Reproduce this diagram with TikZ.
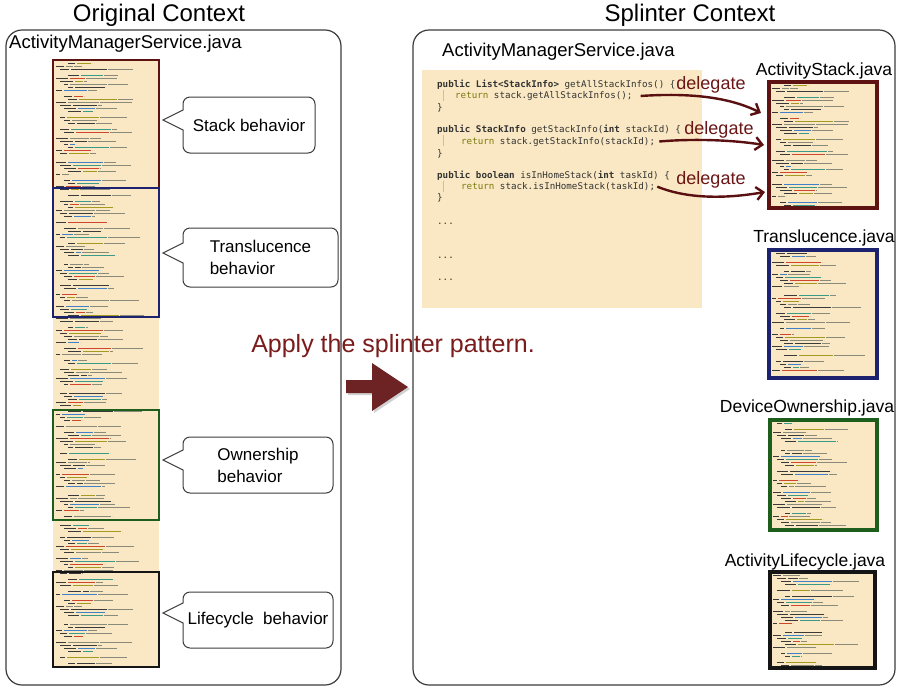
\documentclass[tikz,border=0pt]{standalone}
\usepackage{fontspec}
\setmainfont{Liberation Sans}
\newfontfamily\codefont{DejaVu Sans Mono}
\usetikzlibrary{arrows.meta}
\definecolor{beige}{HTML}{F9E8C3}
\definecolor{boxgray}{HTML}{3C3C3C}
\definecolor{cdark}{HTML}{3A3A3A}
\definecolor{cblue}{HTML}{3F80C8}
\definecolor{cteal}{HTML}{3A9A88}
\definecolor{cred}{HTML}{D0462C}
\definecolor{colive}{HTML}{A49A22}
\definecolor{cgray}{HTML}{8A8A7A}
\definecolor{codegray}{HTML}{333333}
\definecolor{kwolive}{HTML}{7C7A10}
\definecolor{delred}{HTML}{6A1616}
\definecolor{arrred}{HTML}{5A1010}
\definecolor{applyred}{HTML}{7A1C1C}
\definecolor{bigarrow}{HTML}{6D2323}
\definecolor{fred}{HTML}{5E1212}
\definecolor{fblue}{HTML}{1C2270}
\definecolor{fgreen}{HTML}{1D5E1D}
\definecolor{fblack}{HTML}{151515}

\tikzset{
  ctx/.style={draw=boxgray, line width=1.2pt, rounded corners=16pt},
  title/.style={font=\fontsize{24}{29}\selectfont, inner sep=0},
  fname/.style={font=\fontsize{18.5}{22}\selectfont, inner sep=0},
  tname/.style={font=\fontsize{17.5}{21}\selectfont, inner sep=0},
  bubblebox/.style={draw=boxgray, line width=1pt, rounded corners=7pt, fill=white,
    font=\fontsize{17}{22}\selectfont, align=left, inner sep=0},
  bubbleline/.style={draw=boxgray, line width=1pt, line join=miter},
  code/.style={font=\codefont\fontsize{9.2}{11}\selectfont, inner sep=0, anchor=base west, text=codegray},
  guide/.style={draw=gray!50, line width=0.6pt},
  deleg/.style={text=delred, font=\fontsize{18}{22}\selectfont, inner sep=0},
  delarrow/.style={draw=arrred, line width=2.4pt, -{Straight Barb[length=7pt,width=13pt]}},
  lframe/.style={line width=1.8pt},
  rframe/.style={line width=3.2pt},
  applytxt/.style={text=applyred, font=\fontsize{25}{30}\selectfont, inner sep=0},
}

\newcommand{\codelines}[5]{%
  \begin{scope}
  \clip (#1+2,#2+1) rectangle (#3-2,#4-1);
  \pgfmathtruncatemacro{\nl}{(#4-#2-6)/3.0}
  \foreach \k in {0,...,\nl}{%
    \pgfmathtruncatemacro{\cskip}{mod(\k*13+#5,7)*mod(\k*3+#5,11)}
    \ifnum\cskip>0
      \pgfmathsetmacro{\yy}{#2+3+\k*3.0}
      \pgfmathsetmacro{\xa}{#1+3+4*mod(\k*5+#5,4)}
      \pgfmathsetmacro{\wa}{4+mod(\k*11+#5,10)}
      \pgfmathsetmacro{\xb}{\xa+\wa+1.5}
      \pgfmathsetmacro{\wb}{5+mod(\k*29+3*#5,36)}
      \pgfmathsetmacro{\xc}{\xb+\wb+1.5}
      \pgfmathsetmacro{\wc}{max(0,mod(\k*17+#5,45)-12)}
      \pgfmathtruncatemacro{\cc}{mod(\k*7+#5,6)}
      \ifcase\cc \def\col{cblue}\or\def\col{cteal}\or\def\col{cred}\or\def\col{colive}\or\def\col{cgray}\or\def\col{cdark}\fi
      \fill[cdark] (\xa,\yy) rectangle ++(\wa,1.3);
      \fill[\col] (\xb,\yy) rectangle ++(\wb,1.3);
      \fill[cgray] (\xc,\yy) rectangle ++(\wc,1.1);
    \fi
  }
  \end{scope}
}

\newcommand{\bubble}[7]{%
  \node[bubblebox, minimum width={#4-#2}, minimum height={#5-#3}] (#1) at ({(#2+#4)/2},{(#3+#5)/2}) {#7};
  \fill[white] (#2+1.5,#6-10) -- (#2-20,#6) -- (#2+1.5,#6+10) -- cycle;
  \draw[bubbleline] (#2,#6-10) -- (#2-20,#6) -- (#2,#6+10);
}

\begin{document}
\begin{tikzpicture}[x=1pt,y=-1pt]
\useasboundingbox (0,0) rectangle (900,689);
\fill[white] (0,0) rectangle (900,689);

% titles and context boxes
\node[title] (t1) at (159,15) {Original Context};
\node[title] (t2) at (690,15) {Splinter Context};
\draw[ctx] (6,30) rectangle (341,685);
\draw[ctx] (413,30) rectangle (895,685);
\node[fname, anchor=west] (amsL) at (9,44) {ActivityManagerService.java};
\node[fname, anchor=west] (amsR) at (442,52) {ActivityManagerService.java};

% left code strip
\fill[beige] (53,60) rectangle (159,667);
\codelines{53}{60}{159}{667}{3}
\draw[lframe, fred] (53,60) rectangle (159,188);
\draw[lframe, fblue] (53,188) rectangle (159,317);
\draw[lframe, fgreen] (53,410) rectangle (159,520);
\draw[lframe, fblack] (53,572) rectangle (159,667);

% callouts
\bubble{cs}{183}{97}{315}{153}{120}{Stack behavior}
\bubble{ct}{183}{228}{338}{287}{253}{Translucence\\behavior}
\bubble{co}{183}{437}{333}{493}{460}{Ownership\\behavior}
\bubble{cl}{183}{592}{333}{648}{613}{Lifecycle\ \ behavior}

% middle
\node[applytxt] (apply) at (393,346) {Apply the splinter pattern.};
\fill[black, opacity=0.18] (348,382) -- (374,382) -- (374,365) -- (410,389) -- (374,413) -- (374,395) -- (348,395) -- cycle;
\fill[bigarrow] (346,380) -- (372,380) -- (372,363) -- (408,387) -- (372,411) -- (372,393) -- (346,393) -- cycle;

% code panel
\fill[beige] (422,70) rectangle (702,308);
\node[code] (c1) at (437,87.5) {\textbf{public List<StackInfo>} getAllStackInfos() \{};
\draw[guide] (443,90) -- (443,101);
\node[code] (r1) at (455,98.5) {\textcolor{kwolive}{return} stack.getAllStackInfos();};
\node[code] (b1) at (437,110) {\}};
\node[code] (c2) at (437,132) {\textbf{public StackInfo} getStackInfo(\textbf{int} stackId) \{};
\draw[guide] (443,135) -- (443,146);
\node[code] (r2) at (461,144) {\textcolor{kwolive}{return} stack.getStackInfo(stackId);};
\node[code] (b2) at (437,156) {\}};
\node[code] (c3) at (437,178) {\textbf{public boolean} isInHomeStack(\textbf{int} taskId) \{};
\draw[guide] (443,181) -- (443,192);
\node[code] (r3) at (461,189.5) {\textcolor{kwolive}{return} stack.isInHomeStack(taskId);};
\node[code] (b3) at (437,200.5) {\}};
\node[code] (d1) at (437,224.5) {...};
\node[code] (d2) at (437,258.5) {...};
\node[code] (d3) at (437,280.5) {...};

% right thumbnails
\node[tname] (ls) at (824,71) {ActivityStack.java};
\fill[beige] (769,82) rectangle (877,208);
\codelines{769}{82}{877}{208}{3}
\draw[rframe, fred] (769,82) rectangle (877,208);

\node[tname] (lt) at (824,238) {Translucence.java};
\fill[beige] (769,250) rectangle (877,378);
\codelines{769}{250}{877}{378}{5}
\draw[rframe, fblue] (769,250) rectangle (877,378);

\node[tname] (lo) at (807,408) {DeviceOwnership.java};
\fill[beige] (770,420) rectangle (877,530);
\codelines{770}{420}{877}{530}{1}
\draw[rframe, fgreen] (770,420) rectangle (877,530);

\node[tname] (ll) at (805,562) {ActivityLifecycle.java};
\fill[beige] (770,572) rectangle (875,668);
\codelines{770}{572}{875}{668}{4}
\draw[rframe, fblack] (770,572) rectangle (875,668);

% delegate arrows
\coordinate (e1) at (761,113);
\coordinate (e2) at (764,145);
\coordinate (e3) at (765,192);
\node[deleg] (g1) at (711,85) {delegate};
\node[deleg] (g2) at (719,130) {delegate};
\node[deleg] (g3) at (711,180) {delegate};
\draw[delarrow] ([xshift=8pt]r1.east) .. controls (700,92) and (735,100) .. (e1);
\draw[delarrow] ([xshift=4pt]r2.east) .. controls (700,138) and (740,141) .. (e2);
\draw[delarrow] ([xshift=2pt]r3.east) .. controls (690,200) and (730,198) .. (e3);
\end{tikzpicture}
\end{document}
